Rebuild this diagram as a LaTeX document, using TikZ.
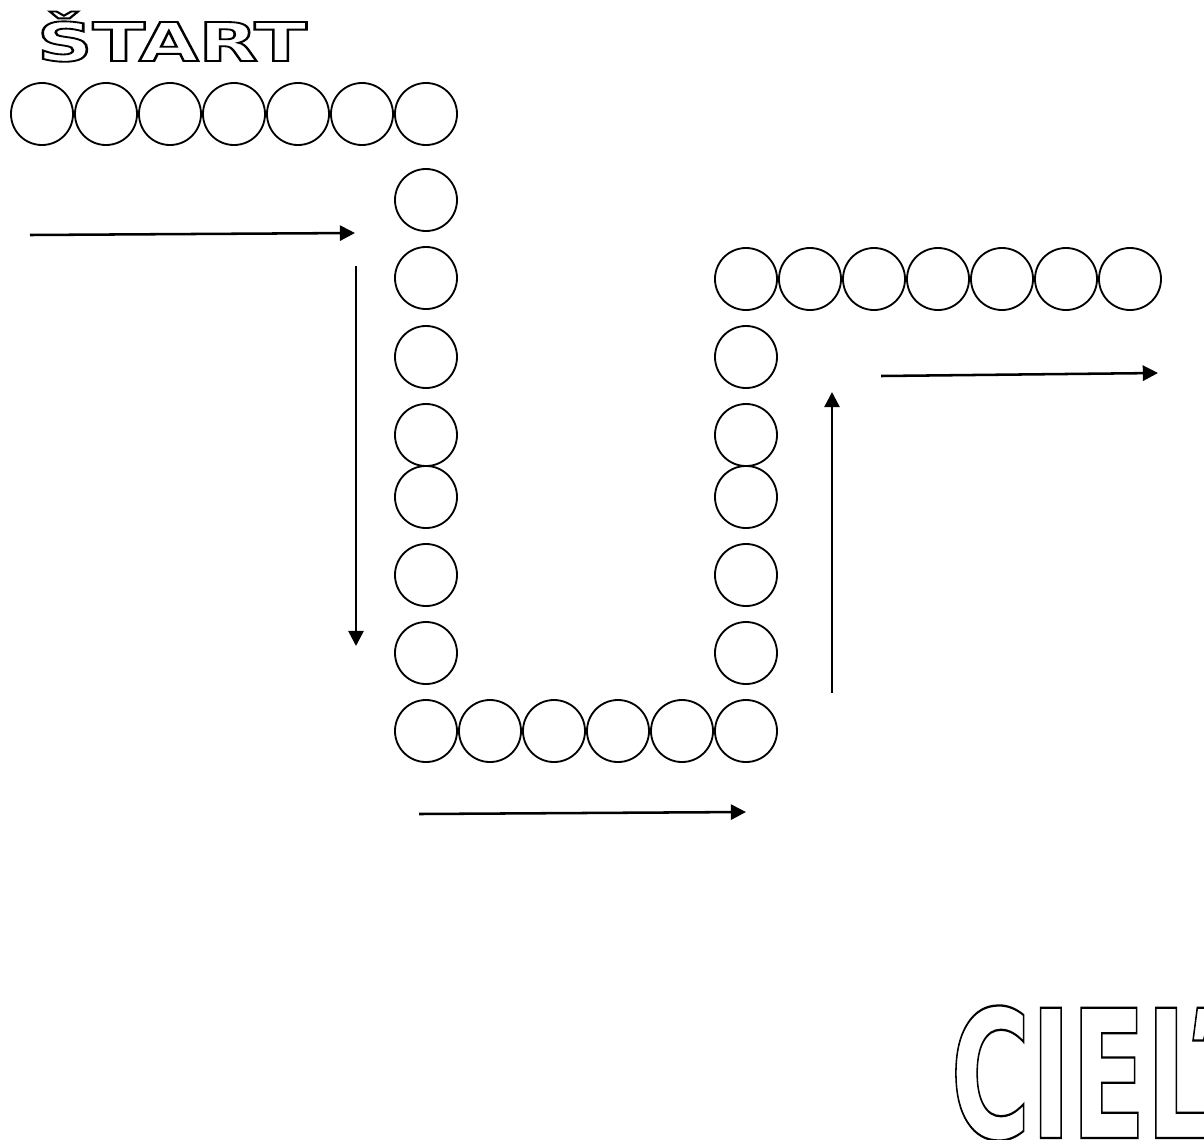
\documentclass[tikz,border=0pt]{standalone}
\usepackage{fontspec}
\usetikzlibrary{arrows.meta}
\newfontfamily\startfont{DejaVu Sans}
\newfontfamily\cielfont{DejaVu Sans Condensed}
\newcommand{\hollow}[2]{\special{pdf:literal direct 1 Tr #1 w}#2\special{pdf:literal direct 0 Tr}}

\begin{document}
\begin{tikzpicture}
    [
        x=0.025cm, y=-0.025cm,
        bead/.style = {draw, shape=circle, minimum size=1.55cm, inner sep=0pt, line width=1.3pt},
        way/.style = {line width=1.8pt, -{Triangle[length=0.38cm, width=0.38cm]}},
    ]
    \useasboundingbox (0,0) rectangle (1204,1139);

    \node[anchor=base, xscale=1.44] (start) at (172,61) {\startfont\bfseries\fontsize{38}{40}\selectfont\hollow{1.3}{ŠTART}};

    \node[bead] (t1) at (42,114)  {};
    \node[bead] (t2) at (106,114) {};
    \node[bead] (t3) at (170,114) {};
    \node[bead] (t4) at (234,114) {};
    \node[bead] (t5) at (298,114) {};
    \node[bead] (t6) at (362,114) {};
    \node[bead] (t7) at (426,114) {};

    \node[bead] (l1) at (426,200) {};
    \node[bead] (l2) at (426,278) {};
    \node[bead] (l3) at (426,357) {};
    \node[bead] (l4) at (426,435) {};
    \node[bead] (l5) at (426,497) {};
    \node[bead] (l6) at (426,575) {};
    \node[bead] (l7) at (426,653) {};

    \node[bead] (b1) at (426,731) {};
    \node[bead] (b2) at (490,731) {};
    \node[bead] (b3) at (554,731) {};
    \node[bead] (b4) at (618,731) {};
    \node[bead] (b5) at (682,731) {};
    \node[bead] (b6) at (746,731) {};

    \node[bead] (r1) at (746,653) {};
    \node[bead] (r2) at (746,575) {};
    \node[bead] (r3) at (746,497) {};
    \node[bead] (r4) at (746,435) {};
    \node[bead] (r5) at (746,357) {};

    \node[bead] (u1) at (746,279)  {};
    \node[bead] (u2) at (810,279)  {};
    \node[bead] (u3) at (874,279)  {};
    \node[bead] (u4) at (938,279)  {};
    \node[bead] (u5) at (1002,279) {};
    \node[bead] (u6) at (1066,279) {};
    \node[bead] (u7) at (1130,279) {};

    \coordinate (a0) at (30,235);
    \coordinate (a1) at (355,233);
    \coordinate (d0) at (356,266);
    \coordinate (d1) at (356,646);
    \coordinate (e0) at (419,814);
    \coordinate (e1) at (746,812);
    \coordinate (g0) at (832,693);
    \coordinate (g1) at (832,392);
    \coordinate (h0) at (881,376);
    \coordinate (h1) at (1158,373);

    \draw [way] (a0) -- (a1);
    \draw [way] (d0) -- (d1);
    \draw [way] (e0) -- (e1);
    \draw [way] (g0) -- (g1);
    \draw [way] (h0) -- (h1);

    \node[anchor=base, xscale=0.68] (ciel) at (1083,1138) {\cielfont\bfseries\fontsize{127}{130}\selectfont\hollow{1.6}{CIEĽ}};
\end{tikzpicture}
\end{document}
